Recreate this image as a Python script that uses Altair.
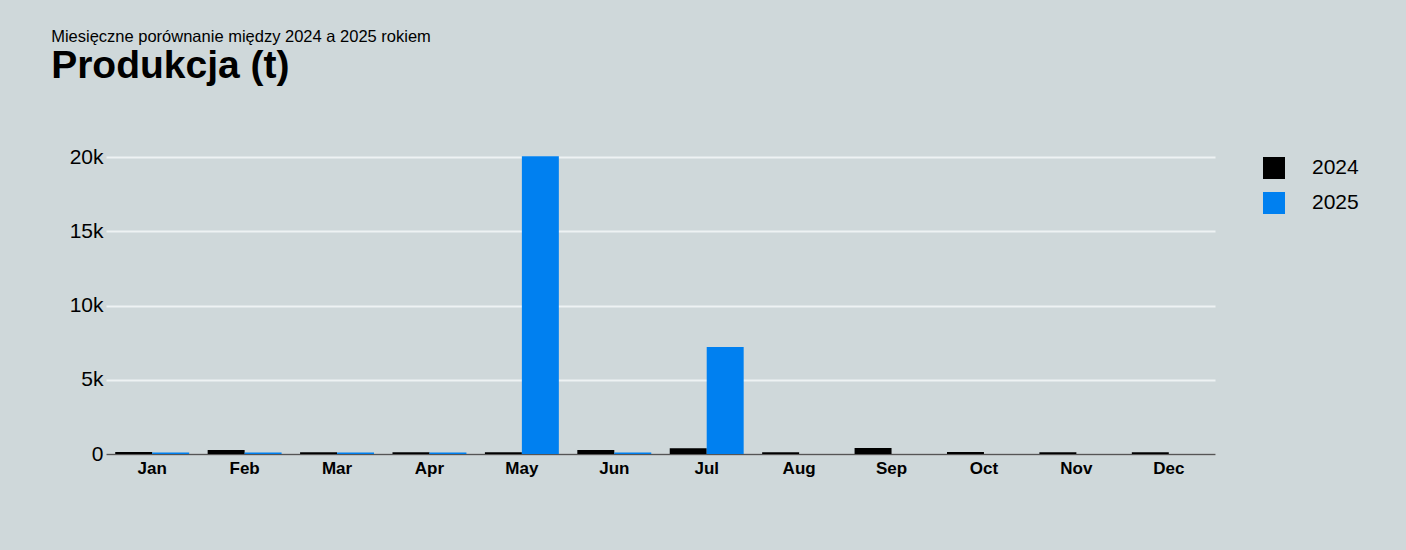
import altair as alt
import pandas as pd
import jinja2

months = ["Jan", "Feb", "Mar", "Apr", "May", "Jun", "Jul", "Aug", "Sep", "Oct", "Nov", "Dec"]
vals_2024 = [130, 270, 120, 110, 110, 270, 380, 120, 400, 130, 120, 120]
vals_2025 = [100, 100, 100, 100, 20050, 100, 7200, 0, 0, 0, 0, 0]

rows = []
for m, a, b in zip(months, vals_2024, vals_2025):
    rows.append({"month": m, "year": "2024", "value": a})
    rows.append({"month": m, "year": "2025", "value": b})
df = pd.DataFrame(rows)

FONT = "Liberation Sans"
BG = "#CFD8DA"

chart = alt.Chart(df).mark_bar().encode(
    x=alt.X("month:N", sort=months, title=None,
            scale=alt.Scale(paddingInner=0.2, paddingOuter=0.1),
            axis=alt.Axis(labelAngle=0, labelFontWeight="bold", labelFontSize=17,
                          labelColor="#000000", labelFont=FONT, ticks=False,
                          domainColor="#555555", domainWidth=1.5, labelPadding=6)),
    xOffset=alt.XOffset("year:N"),
    y=alt.Y("value:Q", title=None,
            scale=alt.Scale(domain=[0, 20000], nice=False),
            axis=alt.Axis(values=[0, 5000, 10000, 15000, 20000], format="~s",
                          labelFontSize=21, labelColor="#000000", labelFont=FONT,
                          ticks=False, domain=False, labelPadding=3,
                          gridColor="#EEF2F3", gridWidth=2)),
    color=alt.Color("year:N", title=None,
                    scale=alt.Scale(domain=["2024", "2025"], range=["#000000", "#0080F0"]),
                    legend=alt.Legend(orient="right", symbolType="square", symbolSize=484,
                                      symbolStrokeWidth=0, labelFontSize=21, labelFont=FONT,
                                      labelColor="#000000", rowPadding=13, labelOffset=27,
                                      offset=48, padding=0)),
).properties(
    width=1109,
    height=297,
    background=BG,
    padding={"left": 43, "top": 20, "right": 10, "bottom": 10},
    title=alt.TitleParams(
        text="Miesięczne porównanie między 2024 a 2025 rokiem",
        subtitle="Produkcja (t)",
        anchor="start",
        frame="bounds",
        font=FONT,
        fontSize=16.5,
        fontWeight="normal",
        color="#000000",
        subtitleFont=FONT,
        subtitleFontSize=39,
        subtitleFontWeight="bold",
        subtitleColor="#000000",
        subtitlePadding=2,
        offset=60,
        dx=-18,
    ),
).configure_view(stroke=None).configure_axisY(labelExpr="datum.value == 0 ? '0' : datum.label")

TEMPLATE = jinja2.Template("""<!DOCTYPE html>
<html>
<head>
  <meta charset="utf-8">
  <style>
    body { background: """ + BG + """; }
    #{{ output_div }}.vega-embed { width: 100%; display: flex; }
  </style>
  <script type="text/javascript" src="{{ base_url }}/vega@{{ vega_version }}"></script>
  <script type="text/javascript" src="{{ base_url }}/vega-lite@{{ vegalite_version }}"></script>
  <script type="text/javascript" src="{{ base_url }}/vega-embed@{{ vegaembed_version }}"></script>
</head>
<body>
  <div id="{{ output_div }}"></div>
  <script>
    (function(vegaEmbed) {
      var spec = {{ spec }};
      var embedOpt = {{ embed_options }};
      vegaEmbed("#{{ output_div }}", spec, embedOpt).catch(function(e) {
        document.getElementById("{{ output_div }}").innerHTML = String(e);
      });
    })(vegaEmbed);
  </script>
</body>
</html>
""")

chart.save("out.html", embed_options={"renderer": "svg", "actions": False}, template=TEMPLATE)
